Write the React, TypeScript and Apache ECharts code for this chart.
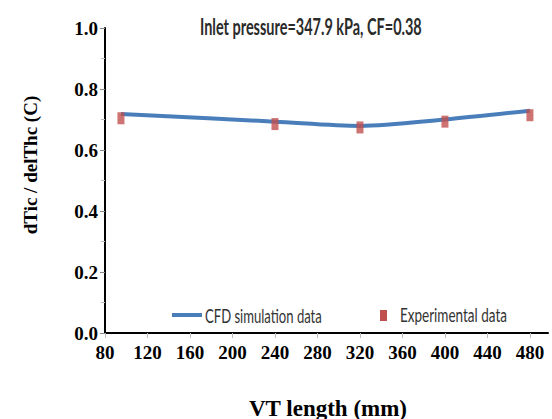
import React, { useEffect, useRef } from "react";
import * as echarts from "echarts";

const vtLength = [95, 240, 320, 400, 480];
const cfdValues = [0.718, 0.693, 0.679, 0.7, 0.729];
const expValues = [0.704, 0.685, 0.674, 0.693, 0.714];
const titleText = "Inlet pressure=347.9 kPa, CF=0.38";
const xName = "VT length (mm)";
const yName = "dTic / delThc (C)";
const cfdName = "CFD simulation data";
const expName = "Experimental data";

const sans = "Lato, 'Noto Sans', sans-serif";
const serif = "'Liberation Serif', 'Times New Roman', serif";

function measure(text: string, font: string): number {
  const c = document.createElement("canvas").getContext("2d");
  if (!c) return text.length * 8;
  c.font = font;
  return c.measureText(text).width;
}

export default function App() {
  const ref = useRef<HTMLDivElement>(null);
  useEffect(() => {
    if (!ref.current) return;
    const chart = echarts.init(ref.current, null, { renderer: "svg" });

    const titleSize = 22;
    const titleScale = 222 / measure(titleText, `bold ${titleSize}px Lato`);
    const legSize = 19;
    const cfdScale = 117 / measure(cfdName, `${legSize}px Lato`);
    const expScale = 107 / measure(expName, `${legSize}px Lato`);

    chart.setOption({
      animation: false,
      backgroundColor: "#ffffff",
      grid: { left: 105, right: 4, top: 28, bottom: 86, containLabel: false },
      xAxis: {
        type: "value",
        min: 80,
        max: 497,
        interval: 40,
        axisLine: { show: true, lineStyle: { color: "#000000", width: 2 } },
        axisTick: { show: true, length: 5, lineStyle: { color: "#bbbbbb", width: 1 } },
        splitLine: { show: false },
        axisLabel: {
          margin: 10,
          fontFamily: serif,
          fontSize: 19,
          fontWeight: "bold",
          color: "#000000",
          showMaxLabel: false,
          formatter: (v: number) => (v % 40 === 0 ? String(v) : ""),
        },
      },
      yAxis: {
        type: "value",
        min: 0,
        max: 1,
        interval: 0.2,
        axisLine: { show: true, lineStyle: { color: "#000000", width: 2 } },
        axisTick: { show: true, length: 5, lineStyle: { color: "#888888", width: 1 } },
        minorTick: { show: true, splitNumber: 2, length: 4, lineStyle: { color: "#bbbbbb" } },
        splitLine: { show: false },
        axisLabel: {
          margin: 7,
          fontFamily: serif,
          fontSize: 19,
          fontWeight: "bold",
          color: "#000000",
          formatter: (v: number) => v.toFixed(1),
        },
      },
      graphic: [
        {
          type: "text",
          x: 200,
          y: 27,
          scaleX: titleScale,
          style: {
            text: titleText,
            fontFamily: sans,
            fontSize: titleSize,
            fontWeight: "bold",
            fill: "#2b2b2b",
            textAlign: "left",
            textVerticalAlign: "middle",
          },
        },
        {
          type: "rect",
          shape: { x: 172, y: 313, width: 30, height: 4 },
          style: { fill: "#4a7ebb" },
        },
        {
          type: "text",
          x: 205,
          y: 315,
          scaleX: cfdScale,
          style: {
            text: cfdName,
            fontFamily: sans,
            fontSize: legSize,
            fill: "#333333",
            textAlign: "left",
            textVerticalAlign: "middle",
          },
        },
        {
          type: "rect",
          shape: { x: 380, y: 310, width: 7, height: 11 },
          style: { fill: "#c0504d" },
        },
        {
          type: "text",
          x: 400,
          y: 315,
          scaleX: expScale,
          style: {
            text: expName,
            fontFamily: sans,
            fontSize: legSize,
            fill: "#333333",
            textAlign: "left",
            textVerticalAlign: "middle",
          },
        },
        {
          type: "text",
          x: 328,
          y: 408,
          style: {
            text: xName,
            fontFamily: serif,
            fontSize: 23,
            fontWeight: "bold",
            fill: "#000000",
            textAlign: "center",
            textVerticalAlign: "middle",
          },
        },
        {
          type: "text",
          x: 30,
          y: 165,
          rotation: Math.PI / 2,
          style: {
            text: yName,
            fontFamily: serif,
            fontSize: 19,
            fontWeight: "bold",
            fill: "#000000",
            textAlign: "center",
            textVerticalAlign: "middle",
          },
        },
      ],
      series: [
        {
          name: cfdName,
          type: "line",
          data: vtLength.map((x, i) => [x, cfdValues[i]]),
          smooth: 0.3,
          showSymbol: false,
          symbol: "none",
          lineStyle: { color: "#4a7ebb", width: 4 },
          itemStyle: { color: "#4a7ebb" },
          z: 2,
        },
        {
          name: expName,
          type: "scatter",
          data: vtLength.map((x, i) => [x, expValues[i]]),
          symbol: "rect",
          symbolSize: [7, 12],
          itemStyle: { color: "#c0504d" },
          z: 3,
        },
      ],
    });
    return () => chart.dispose();
  }, []);
  return <div ref={ref} style={{ position: "absolute", left: 0, top: 0, width: 552, height: 419 }} />;
}
